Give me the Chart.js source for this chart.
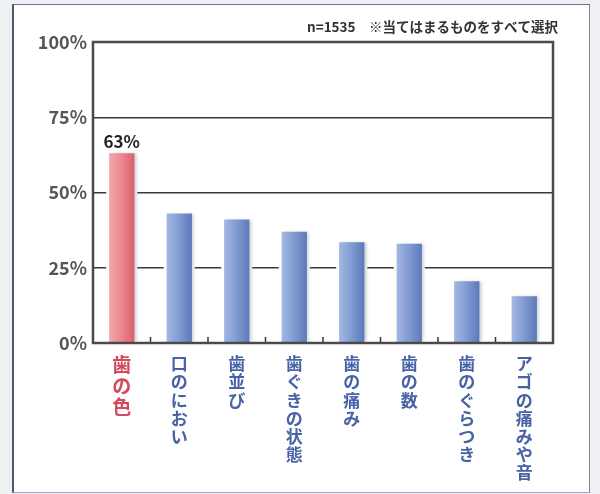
<!DOCTYPE html>
<html><head><meta charset="utf-8">
<script src="https://cdn.jsdelivr.net/npm/chart.js@4.4.1/dist/chart.umd.min.js"></script>
<style>
html,body{margin:0;padding:0;background:#eef0f3;width:600px;height:494px;overflow:hidden;}
#frame{position:absolute;left:12px;top:4px;width:575px;height:487px;background:#fff;border-left:2px solid #4e566e;border-top:1.5px solid #6a7186;border-right:1.5px solid #7d8496;border-bottom:1px solid #a0a6b4;box-sizing:content-box;}
#wrap{position:absolute;left:0;top:0;width:600px;height:494px;}
</style></head><body>
<div id="frame"></div>
<div id="wrap"><canvas id="c" width="600" height="494"></canvas></div>
<script>
const categories = ["歯の色","口のにおい","歯並び","歯ぐきの状態","歯の痛み","歯の数","歯のぐらつき","アゴの痛みや音"];
const values = [63, 43, 41, 37, 33.5, 33, 20.5, 15.5];
const yTicks = [0, 25, 50, 75, 100];
const highlightIndex = 0;
const noteText = "n=1535　※当てはまるものをすべて選択";

const FONT = "'Noto Sans CJK JP', 'Noto Sans', sans-serif";
const BAR_PCT = 0.44;
const RED = ['#f4a7ab', '#e9838a', '#d7606b'];
const BLUE = ['#a3b8e1', '#7d97cf', '#5b79bb'];

function barGrad(c) {
  const chart = c.chart;
  const cols = c.dataIndex === highlightIndex ? RED : BLUE;
  const xs = chart.scales && chart.scales.x;
  if (!chart.chartArea || !xs) return cols[1];
  const cx = xs.getPixelForValue(c.dataIndex);
  const w = (chart.chartArea.width / categories.length) * BAR_PCT;
  const g = chart.ctx.createLinearGradient(cx - w / 2, 0, cx + w / 2, 0);
  g.addColorStop(0, cols[0]);
  g.addColorStop(0.55, cols[1]);
  g.addColorStop(1, cols[2]);
  return g;
}

const shadowPlugin = {
  id: 'shadow',
  beforeDatasetDraw(chart, args) {
    if (args.index !== 0) return;
    const ctx = chart.ctx;
    ctx.save();
    ctx.shadowColor = 'rgba(110,110,125,0.35)';
    ctx.shadowOffsetX = 2.5;
    ctx.shadowOffsetY = 0;
    ctx.shadowBlur = 3;
  },
  afterDatasetDraw(chart, args) {
    if (args.index !== 0) return;
    chart.ctx.restore();
  }
};

const decoPlugin = {
  id: 'deco',
  afterDatasetsDraw(chart) {
    const ctx = chart.ctx;
    const a = chart.chartArea;
    const xs = chart.scales.x;
    ctx.save();
    // category separator ticks
    ctx.strokeStyle = '#333';
    ctx.lineWidth = 1.5;
    for (let i = 1; i < categories.length; i++) {
      const x = (xs.getPixelForValue(i - 1) + xs.getPixelForValue(i)) / 2;
      ctx.beginPath();
      ctx.moveTo(x, a.bottom);
      ctx.lineTo(x, a.bottom - 6);
      ctx.stroke();
    }
    // plot frame
    ctx.strokeStyle = '#4a4a4a';
    ctx.lineWidth = 2.5;
    ctx.strokeRect(a.left, a.top, a.right - a.left, a.bottom - a.top);
    // data label on highlighted bar
    const el = chart.getDatasetMeta(0).data[highlightIndex];
    ctx.fillStyle = '#222';
    ctx.font = 'bold 17px ' + FONT;
    ctx.textAlign = 'center';
    ctx.textBaseline = 'bottom';
    ctx.fillText(values[highlightIndex] + '%', el.x, el.y - 3);
    // note
    ctx.fillStyle = '#333';
    ctx.font = 'bold 13.5px ' + FONT;
    ctx.textAlign = 'right';
    ctx.textBaseline = 'middle';
    ctx.fillText(noteText, a.right + 5, 27);
    ctx.restore();
  }
};

new Chart(document.getElementById('c'), {
  type: 'bar',
  data: {
    labels: categories.map(s => s.split('')),
    datasets: [
      {
        data: values,
        backgroundColor: barGrad,
        borderWidth: 0,
        barPercentage: BAR_PCT,
        categoryPercentage: 1,
        grouped: false,
        order: 0
      },
      {
        data: values,
        backgroundColor: '#ffffff',
        borderWidth: 0,
        barPercentage: 0.54,
        categoryPercentage: 1,
        grouped: false,
        order: 1
      }
    ]
  },
  options: {
    responsive: false,
    animation: false,
    devicePixelRatio: 1,
    layout: { padding: { top: 42, right: 47, bottom: 0, left: 0 } },
    plugins: { legend: { display: false }, tooltip: { enabled: false } },
    scales: {
      x: {
        grid: { display: false, drawTicks: false },
        border: { display: false },
        ticks: {
          autoSkip: false,
          maxRotation: 0,
          minRotation: 0,
          padding: 12,
          color: c => c.index === highlightIndex ? '#d44a5a' : '#4862a6',
          font: c => c.index === highlightIndex
            ? { family: FONT, size: 19, weight: 'bold', lineHeight: 1.08 }
            : { family: FONT, size: 17, weight: 'bold', lineHeight: 1.06 }
        },
        afterFit(s) { s.height = 151; }
      },
      y: {
        min: 0,
        max: 100,
        afterBuildTicks(s) { s.ticks = yTicks.map(v => ({ value: v })); },
        grid: {
          drawTicks: false,
          color: c => (c.tick && (c.tick.value === 0 || c.tick.value === 100)) ? 'rgba(0,0,0,0)' : '#3a3a3a',
          lineWidth: 1.5
        },
        border: { display: false },
        ticks: {
          padding: 6,
          color: '#555',
          font: { family: FONT, size: 18, weight: 'bold' },
          callback: v => v + '%'
        },
        afterFit(s) { s.width = 93; }
      }
    }
  },
  plugins: [shadowPlugin, decoPlugin]
});
</script>
</body></html>
